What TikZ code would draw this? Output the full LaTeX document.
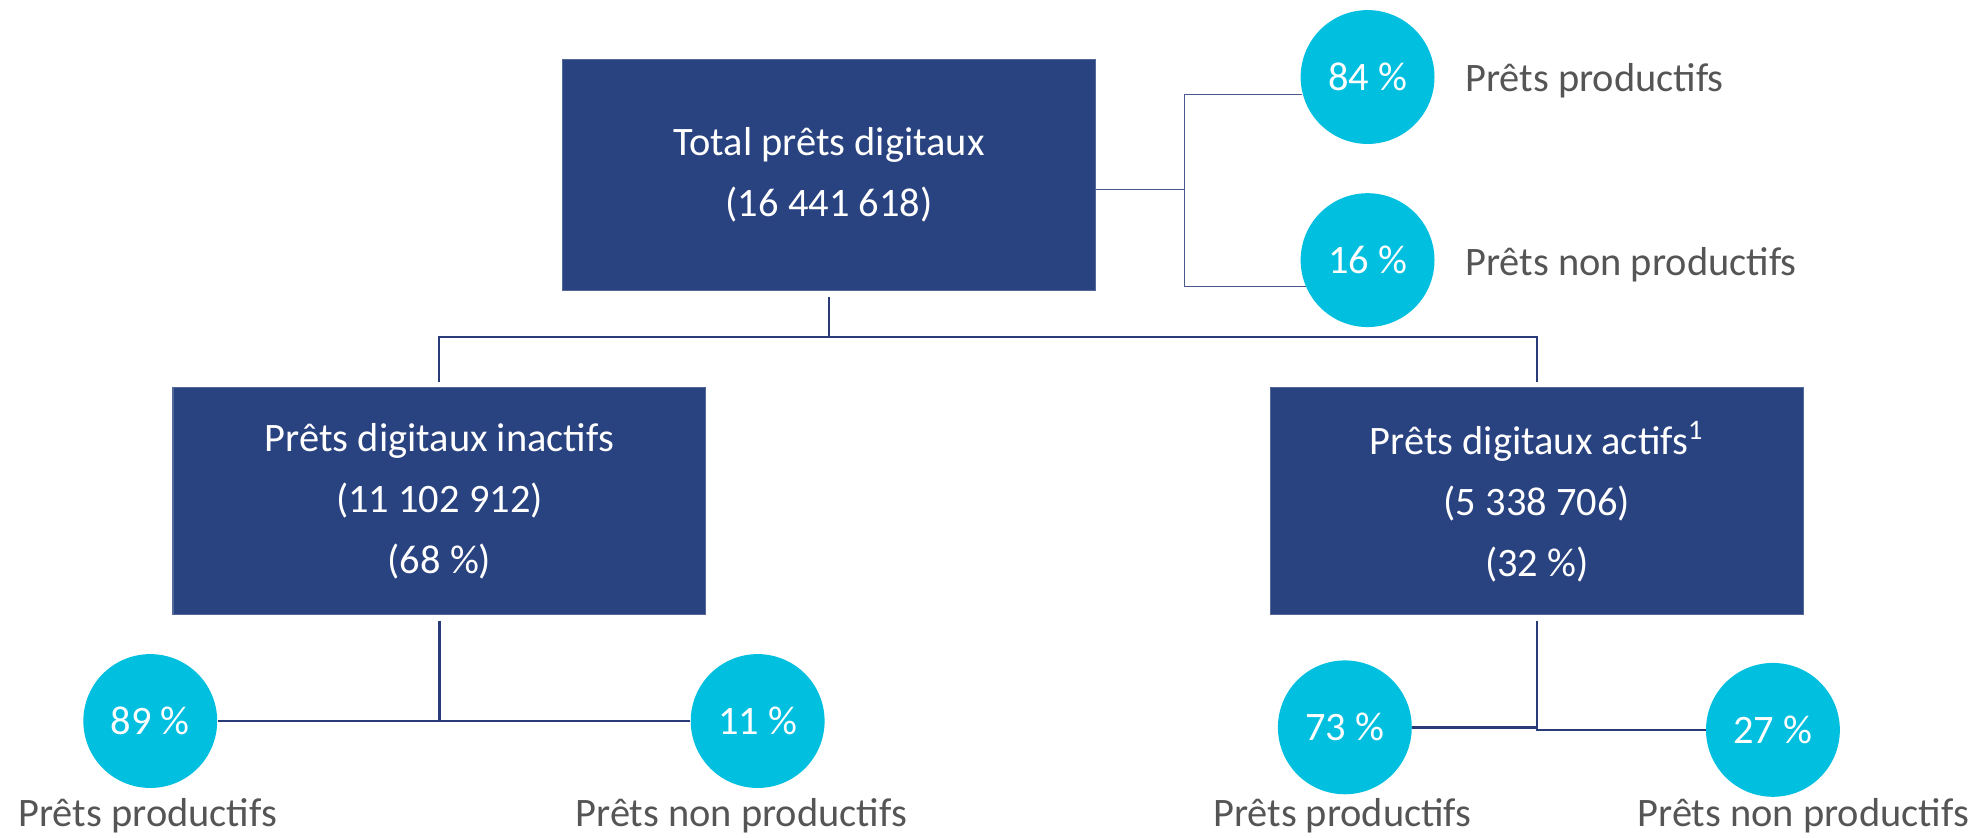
\documentclass[tikz,border=0pt]{standalone}
\usepackage{fontspec}
\setmainfont{Carlito}
\definecolor{boxblue}{RGB}{41,66,128}
\definecolor{linkblue}{RGB}{42,60,120}
\definecolor{dotcyan}{RGB}{0,191,223}
\definecolor{labelgray}{RGB}{85,85,85}
\tikzset{
  mainbox/.style={fill=boxblue, draw=boxblue!80!white, line width=0.4pt, text=white,
    minimum width=211pt, minimum height=90pt, align=center, inner sep=0pt,
    font=\fontsize{16}{24}\selectfont},
  pctdot/.style={circle, fill=dotcyan, draw=none, minimum size=53pt, inner sep=0pt,
    text=white, font=\fontsize{16}{18}\selectfont},
  caption/.style={text=labelgray, inner sep=0pt, font=\fontsize{16}{18}\selectfont},
  link/.style={draw=linkblue, line width=0.8pt},
  thinlink/.style={draw=linkblue!85!white, line width=0.6pt},
}
\begin{document}
\begin{tikzpicture}[x=0.5pt, y=-0.5pt]
\useasboundingbox (0,0) rectangle (1568,663);

% boxes
\node[mainbox, minimum height=91.5pt] (top) at (656.5,138.5) {Total prêts digitaux\\(16 441 618)};
\node[mainbox] (inact) at (348,397) {Prêts digitaux inactifs\\(11 102 912)\\(68 \%)};
\node[mainbox] (act) at (1217,397) {Prêts digitaux actifs\textsuperscript{1}\\(5 338 706)\\(32 \%)};

% percentage dots
\node[pctdot] (c84) at (1083,61) {84 \%};
\node[pctdot] (c16) at (1083,206) {16 \%};
\node[pctdot] (c89) at (119,571) {89 \%};
\node[pctdot] (c11) at (600,571) {11 \%};
\node[pctdot] (c73) at (1065,576) {73 \%};
\node[pctdot] (c27) at (1404,578) {27 \%};

% captions
\node[caption, anchor=west] (l84) at (1160,64) {Prêts productifs};
\node[caption, anchor=west] (l16) at (1160,210) {Prêts non productifs};
\node[caption] (l89) at (117,646) {Prêts productifs};
\node[caption] (l11) at (587,646) {Prêts non productifs};
\node[caption] (l73) at (1063,646) {Prêts productifs};
\node[caption] (l27) at (1428,646) {Prêts non productifs};

% junction points
\coordinate (jr) at (938,150);
\coordinate (jt) at (656.5,267);
\coordinate (jl) at (348,571);
\coordinate (ja) at (1217,576);

% links from the top box
\draw[thinlink] (top.east |- jr) -- (jr);
\draw[thinlink] (jr |- c84.195) -- (jr |- c16.203);
\draw[thinlink] (jr |- c84.195) -- (c84.195);
\draw[thinlink] (jr |- c16.203) -- (c16.203);
\draw[link] ([yshift=-2.5pt]top.south) -- (jt);
\draw[link] (jt) -| ([yshift=2pt]inact.north);
\draw[link] (jt) -| ([yshift=2pt]act.north);

% links from the lower boxes
\draw[link, line width=1pt] ([yshift=-2pt]inact.south) -- (jl);
\draw[link, line width=1pt] (c89.east) -- (c11.west);
\draw[link, line width=1pt] ([yshift=-2pt]act.south) -- (ja);
\draw[link, line width=1pt] (c73.east) -- (ja);
\draw[link, line width=1pt] (ja) |- (c27.west);
\end{tikzpicture}
\end{document}
